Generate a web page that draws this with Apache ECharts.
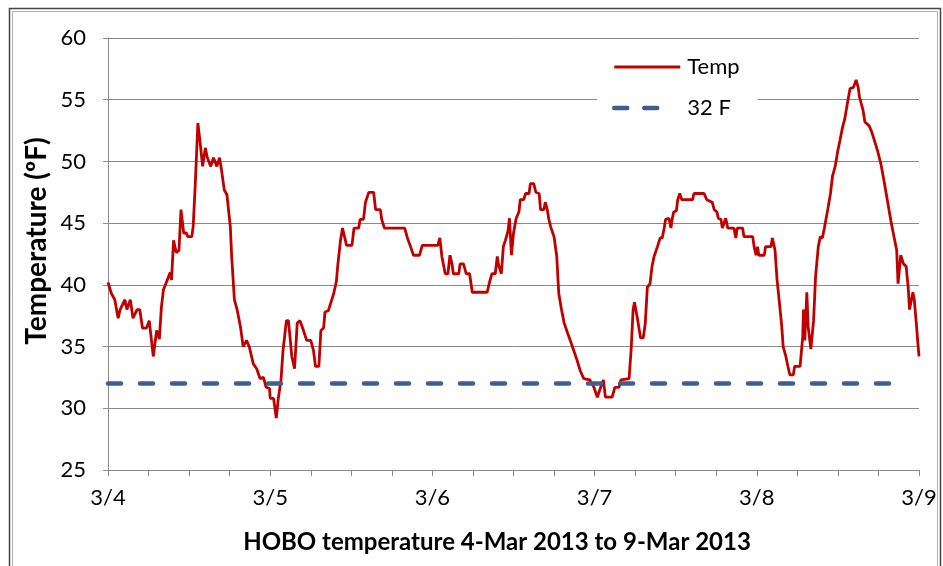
<!DOCTYPE html>
<html>
<head>
<meta charset="utf-8">
<script src="https://cdn.jsdelivr.net/npm/echarts@6/dist/echarts.min.js"></script>
<style>html,body{margin:0;padding:0;background:#fff;}#c{width:943px;height:566px;}</style>
</head>
<body>
<div id="c"></div>
<script>
// Hours since 3/4 00:00
var hours = [
  0.0,0.5,1.0,1.5,1.8,2.5,2.8,3.3,3.7,4.3,4.7,5.1,5.7,6.1,6.7,7.2,7.6,7.9,8.2,8.7,9.2,9.4,9.7,10.1,10.5,10.8,11.2,11.6,11.8,12.4,12.6,12.9,13.3,13.6,14.0,14.4,14.7,15.2,15.6,16.1,16.5,16.8,17.2,17.6,18.1,18.3,18.7,19.1,19.6,20.0,20.5,20.9,21.5,22.0,22.5,23.0,23.4,23.9,
  24.0,24.5,24.9,25.2,25.6,25.9,26.4,26.7,27.2,27.6,28.0,28.4,28.8,29.4,30.0,30.4,30.7,31.2,31.5,31.9,32.1,32.6,33.0,33.4,33.8,34.0,34.4,34.7,35.0,35.3,36.1,36.4,37.1,37.3,37.8,38.1,38.3,38.6,39.3,39.6,40.3,40.5,40.9,43.9,44.3,44.7,45.2,46.1,46.5,
  48.8,49.1,49.4,49.9,50.3,50.6,50.9,51.1,51.9,52.1,52.6,53.0,53.5,53.9,56.1,56.5,56.8,57.3,57.6,57.8,58.2,58.5,58.8,59.2,59.4,59.7,60.0,60.4,60.8,61.0,61.5,61.8,62.3,62.5,63.0,63.3,63.8,64.0,64.5,64.7,65.0,65.2,65.5,66.0,66.4,66.7,67.1,67.5,68.0,68.4,68.9,69.4,69.9,70.4,71.3,71.9,
  72.4,72.9,73.3,73.6,74.6,75.0,75.6,75.9,77.1,77.4,77.7,77.9,78.3,78.8,79.2,79.5,79.8,80.2,80.5,80.8,81.3,81.7,82.0,82.3,82.5,83.0,83.3,83.5,83.7,84.1,84.3,84.6,84.9,86.5,86.7,88.2,88.6,89.4,89.7,90.1,90.3,90.7,90.9,91.4,91.7,92.6,92.9,93.1,93.9,94.1,95.4,95.6,95.9,96.1,96.3,
  97.1,97.3,98.1,98.3,98.7,99.0,99.3,99.7,99.9,100.3,100.6,100.9,101.4,101.6,102.4,102.8,102.9,103.1,103.4,103.6,104.0,104.4,104.7,105.1,105.4,105.7,106.0,106.5,106.9,107.2,107.6,108.0,108.3,108.7,109.0,109.4,109.8,110.3,110.7,111.0,111.2,111.7,112.0,112.6,113.0,113.4,113.9,114.4,114.9,115.4,115.9,116.3,116.7,116.9,117.3,117.7,118.1,118.4,118.6,119.1,119.3,119.6,119.8,120.0
];
var temps = [
  40.2,39.3,38.8,37.3,38.0,38.8,38.0,38.8,37.3,38.0,38.0,36.5,36.5,37.1,34.2,36.3,35.6,38.2,39.6,40.3,41.0,40.4,43.6,42.6,42.8,46.1,44.2,44.2,43.9,43.9,44.7,48.0,53.1,51.7,49.6,51.1,50.3,49.6,50.3,49.6,50.3,49.3,47.7,47.3,44.7,42.3,38.8,38.0,36.6,35.0,35.5,35.0,33.6,33.2,32.4,32.5,31.7,31.6,
  30.8,30.8,29.2,30.8,32.3,34.7,37.1,37.1,34.2,33.2,36.9,37.1,36.5,35.5,35.5,34.7,33.4,33.4,36.3,36.5,37.8,37.9,38.6,39.3,40.3,41.6,43.6,44.6,43.9,43.2,43.2,44.6,44.6,45.3,45.3,46.7,46.7,47.5,47.5,46.1,46.1,45.3,44.6,44.6,43.8,43.2,42.4,42.4,43.2,
  43.2,43.8,42.3,40.9,40.9,42.4,41.7,40.9,40.9,41.7,41.7,40.9,40.9,39.4,39.4,40.3,40.9,40.9,42.3,41.6,40.9,43.1,43.6,44.4,45.4,42.4,44.2,45.4,45.9,46.9,46.9,47.4,47.4,48.2,48.2,47.5,47.4,46.1,46.1,46.7,46.1,45.4,44.7,43.9,42.3,39.3,38.0,36.9,36.1,35.5,34.7,33.9,33.0,32.4,32.3,31.7,
  30.9,31.7,32.3,30.9,30.9,31.7,31.7,32.3,32.4,34.7,38.0,38.6,37.4,35.7,35.7,36.9,39.8,40.1,41.5,42.3,43.1,43.8,43.8,44.6,45.3,45.4,44.6,45.4,45.9,46.0,46.9,47.4,46.9,46.9,47.4,47.4,46.9,46.7,46.1,45.9,45.4,45.3,44.6,45.4,44.6,44.6,43.8,44.6,44.6,43.9,43.9,43.1,42.4,43.1,42.4,
  42.4,43.1,43.1,43.8,42.8,40.4,38.8,36.6,35.0,34.2,33.4,32.7,32.7,33.4,33.4,35.8,38.0,35.5,39.4,36.6,34.8,37.1,40.7,43.1,43.9,43.8,44.6,46.1,47.4,48.8,49.6,50.9,51.7,52.8,53.4,54.7,55.9,56.0,56.6,56.0,55.2,54.2,53.2,52.9,52.4,51.7,50.8,49.7,48.2,46.6,45.0,43.9,42.8,40.1,42.4,41.7,41.5,39.8,38.0,39.4,38.8,36.9,35.5,34.2
];
// 32 F reference line
var refHours = [0, 117.7];
var refTemps = [32, 32];
// x tick labels (one per day)
var dayLabels = ['3/4','3/5','3/6','3/7','3/8','3/9'];
var seriesNames = ['Temp', '32 F'];
var xTitle = 'HOBO temperature 4-Mar 2013 to 9-Mar 2013';
var yTitle = 'Temperature (\u00baF)';

var FONT = 'Lato, "Open Sans", sans-serif';
var chart = echarts.init(document.getElementById('c'), null, {renderer: 'canvas'});
var tempData = hours.map(function (h, i) { return [h, temps[i]]; });
var refData = refHours.map(function (h, i) { return [h, refTemps[i]]; });

chart.setOption({
  animation: false,
  backgroundColor: '#fff',
  grid: {left: 108, right: 24, top: 38, bottom: 96, containLabel: false},
  xAxis: {
    type: 'value', min: 0, max: 120, interval: 6,
    axisLine: {show: true, onZero: false, lineStyle: {color: '#8a8a8a', width: 1}},
    axisTick: {show: true, inside: false, length: 6, lineStyle: {color: '#8a8a8a'}},
    splitLine: {show: false},
    axisLabel: {
      color: '#000', fontFamily: FONT, fontSize: 22, margin: 17,
      showMinLabel: true, showMaxLabel: true,
      formatter: function (v) { return v % 24 === 0 ? dayLabels[v / 24] : ''; }
    }
  },
  yAxis: {
    type: 'value', min: 25, max: 60, interval: 5,
    axisLine: {show: true, lineStyle: {color: '#8a8a8a', width: 1}},
    axisTick: {show: true, inside: false, length: 5, lineStyle: {color: '#8a8a8a'}},
    splitLine: {show: true, lineStyle: {color: '#8a8a8a', width: 1}},
    axisLabel: {color: '#000', fontFamily: FONT, fontSize: 22, margin: 22}
  },
  legend: {
    orient: 'vertical', left: 597, top: 45,
    padding: [11, 18, 11, 15],
    backgroundColor: '#fff',
    itemWidth: 66, itemHeight: 26, itemGap: 19,
    itemStyle: {opacity: 0},
    lineStyle: {width: 'inherit'},
    textStyle: {color: '#000', fontFamily: FONT, fontSize: 22, padding: [0, 0, 0, 2]},
    data: [
      {name: seriesNames[0], lineStyle: {width: 2.8}},
      {name: seriesNames[1], lineStyle: {width: 4.5, type: [13, 17, 13, 200], cap: 'round'}}
    ]
  },
  graphic: [
    {type: 'rect', shape: {x: 9.5, y: 8.5, width: 931, height: 600}, style: {fill: 'none', stroke: '#444', lineWidth: 1.5}, silent: true},
    {type: 'rect', shape: {x: 12.5, y: 11.5, width: 925, height: 600}, style: {fill: 'none', stroke: '#b0b0b0', lineWidth: 1}, silent: true},
    {type: 'text', x: 497, y: 542, style: {text: xTitle, fill: '#000', font: 'bold 24px ' + FONT, textAlign: 'center', textVerticalAlign: 'middle'}},
    {type: 'text', x: 37, y: 241, rotation: Math.PI / 2, style: {text: yTitle, fill: '#000', font: 'bold 28px ' + FONT, textAlign: 'center', textVerticalAlign: 'middle'}}
  ],
  series: [
    {
      name: seriesNames[0], type: 'line', data: tempData, symbol: 'none', showSymbol: false,
      lineStyle: {color: '#C00000', width: 2.8}, itemStyle: {color: '#C00000'}, z: 2
    },
    {
      name: seriesNames[1], type: 'line', data: refData, symbol: 'none', showSymbol: false,
      lineStyle: {color: '#3E5F8E', width: 4.5, type: [13, 19], cap: 'round'}, itemStyle: {color: '#3E5F8E'}, z: 3
    }
  ]
});
</script>
</body>
</html>
